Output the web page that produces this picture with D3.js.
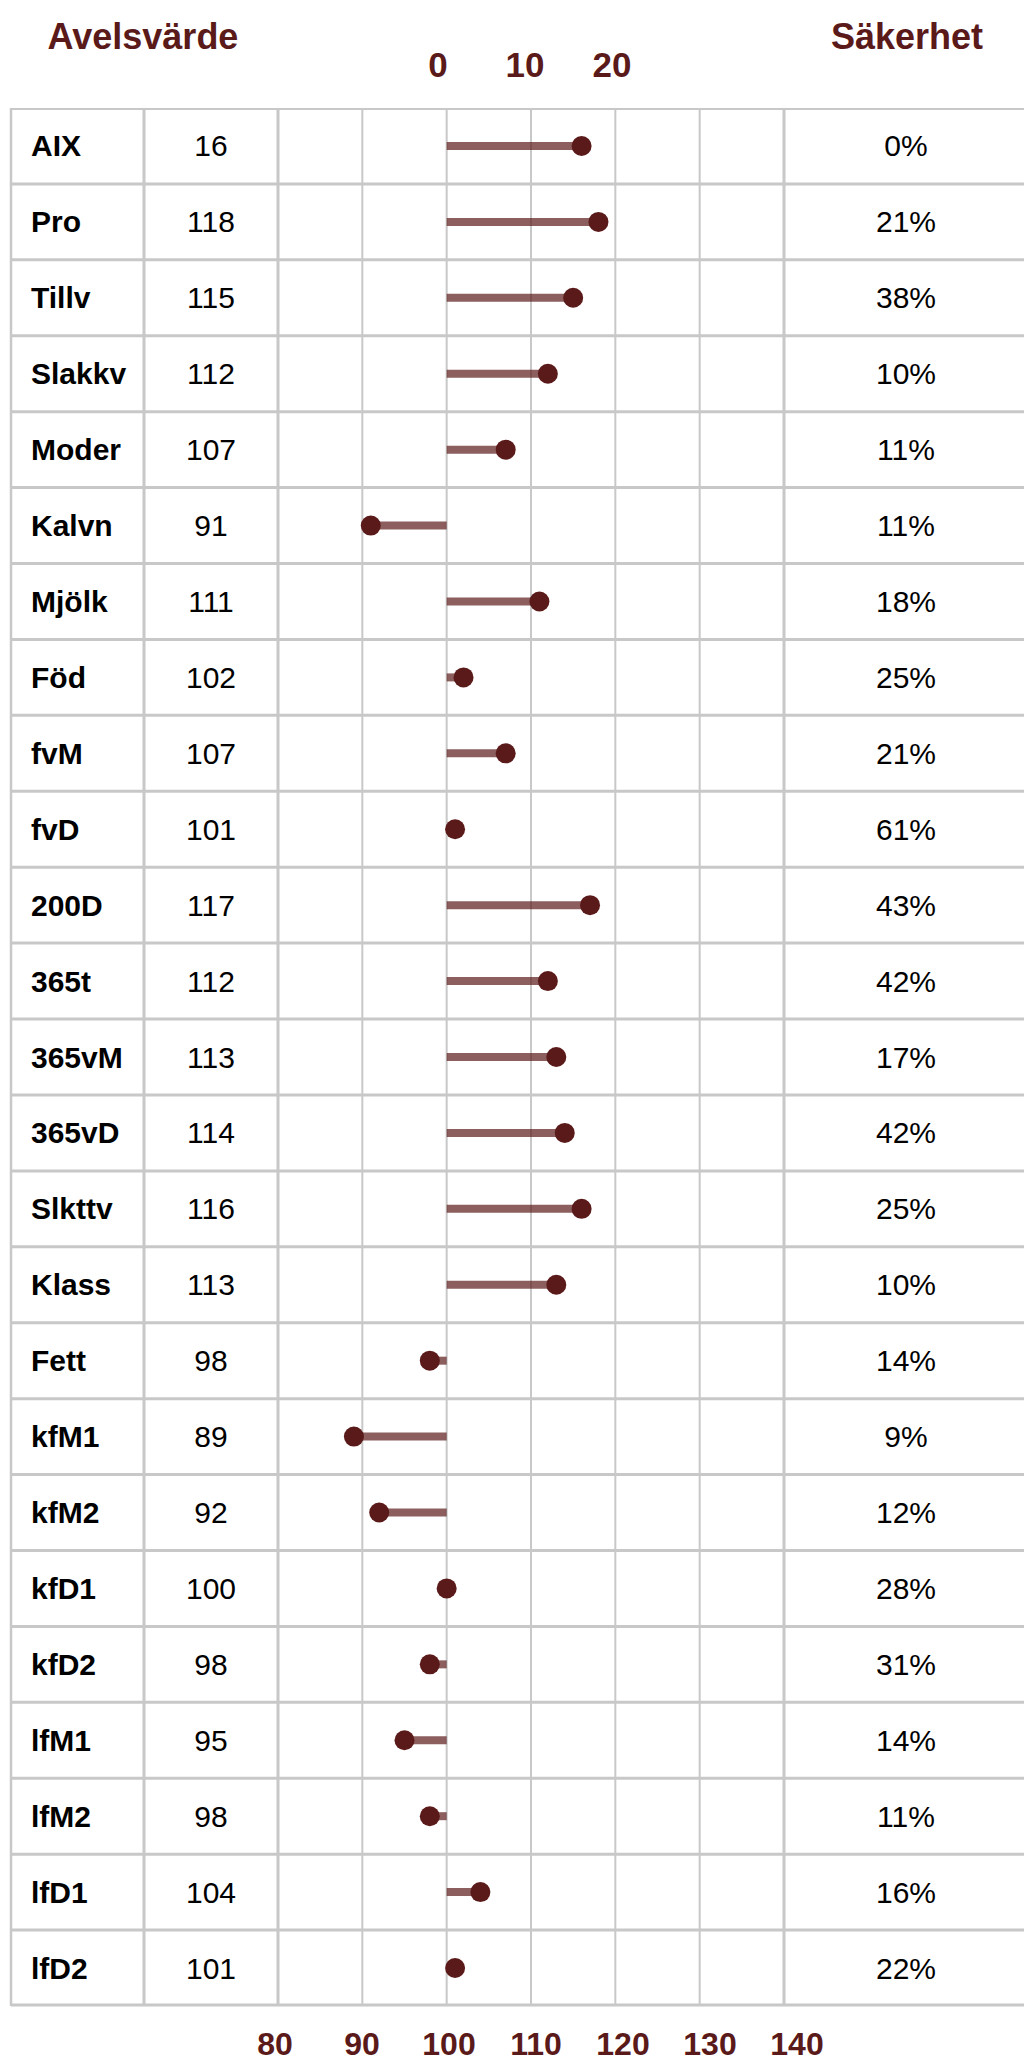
<!DOCTYPE html>
<html>
<head>
<meta charset="utf-8">
<script src="https://cdn.jsdelivr.net/npm/d3@7"></script>
<style>
  body { margin:0; background:#fff; }
  svg text { font-family: "Liberation Sans", Arial, sans-serif; }
</style>
</head>
<body>
<svg id="chart" width="1024" height="2061"></svg>
<script>
// data
const traits = ["AIX","Pro","Tillv","Slakkv","Moder","Kalvn","Mjölk","Föd","fvM","fvD",
  "200D","365t","365vM","365vD","Slkttv","Klass","Fett","kfM1","kfM2","kfD1","kfD2",
  "lfM1","lfM2","lfD1","lfD2"];
const avelsvarde = [16,118,115,112,107,91,111,102,107,101,117,112,113,114,116,113,98,89,92,100,98,95,98,104,101];
const sakerhet = [0,21,38,10,11,11,18,25,21,61,43,42,17,42,25,10,14,9,12,28,31,14,11,16,22];
const bottomTicks = [80,90,100,110,120,130,140];
const topTicks = [0,10,20];

(function(){
  const svg = d3.select("#chart");
  const dark = "#5b1a1a";
  const gridColor = "#c8c8c8";

  const rows = traits.map((t,i)=>({trait:t, value:avelsvarde[i], sak:sakerhet[i]}));

  // scales
  const x = d3.scaleLinear().domain([80,140]).range([278,784]);
  const xAix = d3.scaleLinear().domain([0,20]).range([x(100),x(120)]);   // AIX on its own 0-20 scale
  const xBottomLabel = d3.scaleLinear().domain([80,140]).range([275,797]);
  const xTopLabel = d3.scaleLinear().domain([0,20]).range([438,612]);
  const y = d3.scaleBand().domain(traits).range([108,2006]);

  const left = 11, right = 1024;
  const colName = 144, colVal = 278, colSak = 784;
  const top = y.range()[0], bottom = y.range()[1];

  // headers
  svg.append("text").attr("x",143).attr("y",49).attr("text-anchor","middle")
    .attr("font-size",36).attr("font-weight","bold").attr("fill",dark).text("Avelsvärde");
  svg.append("text").attr("x",907).attr("y",49).attr("text-anchor","middle")
    .attr("font-size",36).attr("font-weight","bold").attr("fill",dark).text("Säkerhet");

  svg.selectAll("text.toptick").data(topTicks).join("text")
    .attr("class","toptick")
    .attr("x",d=>xTopLabel(d)).attr("y",77).attr("text-anchor","middle")
    .attr("font-size",35).attr("font-weight","bold").attr("fill",dark).text(d=>d);

  svg.selectAll("text.bottick").data(bottomTicks).join("text")
    .attr("class","bottick")
    .attr("x",d=>xBottomLabel(d)).attr("y",2055).attr("text-anchor","middle")
    .attr("font-size",32).attr("font-weight","bold").attr("fill",dark).text(d=>d);

  // table grid
  const grid = svg.append("g");
  // inner vertical grid lines
  grid.selectAll("line.vg").data(bottomTicks.filter(d=>d>80 && d<140)).join("line")
    .attr("x1",d=>x(d)).attr("x2",d=>x(d)).attr("y1",top).attr("y2",bottom)
    .attr("stroke",gridColor).attr("stroke-width",2);
  // column separators
  grid.selectAll("line.col").data([colName,colVal,colSak]).join("line")
    .attr("x1",d=>d).attr("x2",d=>d).attr("y1",top).attr("y2",bottom)
    .attr("stroke",gridColor).attr("stroke-width",3);
  // row separators
  grid.selectAll("line.row").data(traits.slice(1)).join("line")
    .attr("x1",left).attr("x2",right).attr("y1",d=>y(d)).attr("y2",d=>y(d))
    .attr("stroke",gridColor).attr("stroke-width",3);
  // outer border
  grid.append("line").attr("x1",left).attr("x2",right).attr("y1",top+1).attr("y2",top+1)
    .attr("stroke",gridColor).attr("stroke-width",2);
  grid.append("line").attr("x1",left).attr("x2",right).attr("y1",bottom-1).attr("y2",bottom-1)
    .attr("stroke",gridColor).attr("stroke-width",3);
  grid.append("line").attr("x1",left).attr("x2",left).attr("y1",top).attr("y2",bottom)
    .attr("stroke",gridColor).attr("stroke-width",2.5);

  const cy = d=>y(d.trait)+y.bandwidth()/2;
  const px = d=>d.trait==="AIX" ? xAix(d.value) : x(d.value);

  // lollipops
  svg.selectAll("line.stem").data(rows).join("line")
    .attr("class","stem")
    .attr("x1",x(100)).attr("x2",px)
    .attr("y1",cy).attr("y2",cy)
    .attr("stroke",dark).attr("stroke-opacity",0.7).attr("stroke-width",8);
  svg.selectAll("circle.dot").data(rows).join("circle")
    .attr("class","dot")
    .attr("cx",px).attr("cy",cy).attr("r",10).attr("fill",dark);

  // table text
  svg.selectAll("text.name").data(rows).join("text")
    .attr("class","name")
    .attr("x",31).attr("y",d=>cy(d)+10.5)
    .attr("font-size",30).attr("font-weight","bold").attr("fill","#000").text(d=>d.trait);
  svg.selectAll("text.val").data(rows).join("text")
    .attr("class","val")
    .attr("x",(colName+colVal)/2).attr("y",d=>cy(d)+10.5).attr("text-anchor","middle")
    .attr("font-size",30).attr("fill","#000").text(d=>d.value);
  svg.selectAll("text.sak").data(rows).join("text")
    .attr("class","sak")
    .attr("x",906).attr("y",d=>cy(d)+10.5).attr("text-anchor","middle")
    .attr("font-size",30).attr("fill","#000").text(d=>d.sak+"%");
})();
</script>
</body>
</html>
